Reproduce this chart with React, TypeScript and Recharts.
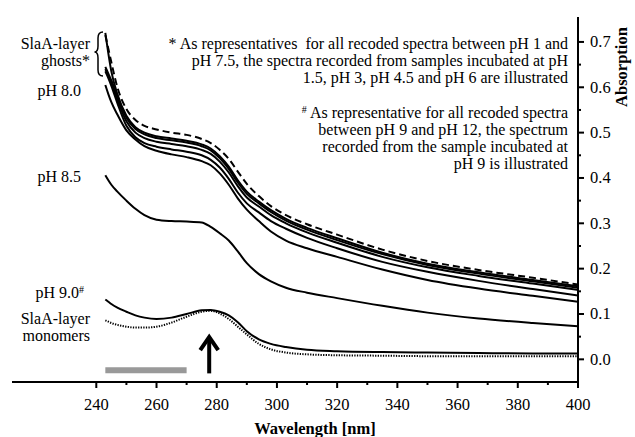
import React from 'react';
import {
  LineChart,
  Line,
  XAxis,
  YAxis,
  ReferenceLine,
  ReferenceDot,
} from 'recharts';

// wavelength grid [nm]
const WAVELENGTHS = [243, 244, 245, 247, 250, 253, 256, 260, 265, 270, 275, 278, 281, 284, 287, 290, 294, 298, 303, 310, 320, 335, 350, 367, 385, 400];

// S-layer ghosts (pH 1.5 - 7.5), dashed one on top
const GHOST_DASHED = [0.715, 0.685, 0.655, 0.6, 0.552, 0.528, 0.515, 0.507, 0.5, 0.495, 0.486, 0.477, 0.462, 0.442, 0.414, 0.387, 0.36, 0.338, 0.318, 0.298, 0.275, 0.242, 0.217, 0.197, 0.18, 0.165];
const GHOST_1 = [0.72, 0.675, 0.635, 0.585, 0.537, 0.512, 0.5, 0.492, 0.487, 0.482, 0.474, 0.465, 0.448, 0.425, 0.395, 0.37, 0.348, 0.329, 0.31, 0.29, 0.267, 0.235, 0.211, 0.192, 0.175, 0.161];
const GHOST_2 = [0.645, 0.63, 0.615, 0.58, 0.533, 0.508, 0.496, 0.488, 0.483, 0.478, 0.47, 0.461, 0.444, 0.42, 0.39, 0.365, 0.344, 0.325, 0.306, 0.286, 0.263, 0.232, 0.208, 0.189, 0.172, 0.158];
const GHOST_3 = [0.64, 0.625, 0.61, 0.573, 0.525, 0.5, 0.488, 0.48, 0.475, 0.47, 0.462, 0.453, 0.436, 0.412, 0.382, 0.357, 0.337, 0.318, 0.3, 0.28, 0.257, 0.226, 0.203, 0.184, 0.167, 0.153];
const GHOST_4 = [0.635, 0.62, 0.603, 0.565, 0.515, 0.49, 0.477, 0.469, 0.463, 0.458, 0.45, 0.44, 0.423, 0.398, 0.368, 0.344, 0.324, 0.305, 0.288, 0.268, 0.245, 0.215, 0.193, 0.173, 0.155, 0.141];
const PH_80 = [0.605, 0.585, 0.567, 0.54, 0.505, 0.485, 0.47, 0.46, 0.452, 0.446, 0.437, 0.428, 0.41, 0.385, 0.355, 0.33, 0.305, 0.282, 0.262, 0.245, 0.226, 0.198, 0.175, 0.156, 0.14, 0.127];
const PH_85 = [0.406, 0.395, 0.385, 0.37, 0.35, 0.332, 0.318, 0.308, 0.305, 0.304, 0.302, 0.292, 0.278, 0.262, 0.238, 0.212, 0.188, 0.172, 0.158, 0.147, 0.135, 0.118, 0.103, 0.09, 0.08, 0.073];
const PH_90 = [0.132, 0.127, 0.122, 0.114, 0.105, 0.097, 0.092, 0.089, 0.092, 0.1, 0.108, 0.109, 0.105, 0.097, 0.082, 0.062, 0.044, 0.034, 0.027, 0.021, 0.018, 0.016, 0.015, 0.014, 0.013, 0.013];
const MONOMERS = [0.086, 0.083, 0.08, 0.076, 0.072, 0.07, 0.07, 0.072, 0.081, 0.094, 0.105, 0.107, 0.101, 0.089, 0.072, 0.055, 0.034, 0.022, 0.015, 0.011, 0.009, 0.008, 0.007, 0.007, 0.007, 0.007];

const X_TICKS = [240, 250, 260, 270, 280, 290, 300, 310, 320, 330, 340, 350, 360, 370, 380, 390, 400];
const Y_TICKS = [0, 0.05, 0.1, 0.15, 0.2, 0.25, 0.3, 0.35, 0.4, 0.45, 0.5, 0.55, 0.6, 0.65, 0.7];

// grey bar and arrow marks (data units)
const BAR_RANGE = [243, 270];
const BAR_LEVEL = -0.024;
const ARROW_X = 277.5;
const ARROW_TIP = 0.049;
const ARROW_TAIL = -0.031;

const data = WAVELENGTHS.map((wl, i) => ({
  wl,
  dashed: GHOST_DASHED[i],
  g1: GHOST_1[i],
  g2: GHOST_2[i],
  g3: GHOST_3[i],
  g4: GHOST_4[i],
  ph80: PH_80[i],
  ph85: PH_85[i],
  ph90: PH_90[i],
  mono: MONOMERS[i],
}));

const FONT = '"Liberation Serif", "Times New Roman", Times, Tinos, "Noto Serif", "DejaVu Serif", FreeSerif, serif';

const BottomTick = (props: any) => {
  const { x, y, payload } = props;
  const major = payload.value % 20 === 0;
  return (
    <g>
      <line x1={x} x2={x} y1={y} y2={y + (major ? 6 : 3)} stroke="#000" strokeWidth={2} />
      {major && (
        <text x={x} y={y + 28} textAnchor="middle" style={{ fontFamily: FONT }} fontSize={16.5} fill="#000">
          {payload.value}
        </text>
      )}
    </g>
  );
};

const TopTick = (props: any) => {
  const { x, y, payload } = props;
  const major = payload.value % 20 === 0;
  return <line x1={x} x2={x} y1={y} y2={y - (major ? 6 : 3)} stroke="#000" strokeWidth={2} />;
};

const RightTick = (props: any) => {
  const { x, y, payload } = props;
  const major = Math.round(payload.value * 100) % 10 === 0;
  return (
    <g>
      <line x1={x} x2={x + (major ? 6 : 3)} y1={y} y2={y} stroke="#000" strokeWidth={2} />
      {major && (
        <text x={x + 12} y={y + 5.5} textAnchor="start" style={{ fontFamily: FONT }} fontSize={16.5} fill="#000">
          {payload.value.toFixed(1)}
        </text>
      )}
    </g>
  );
};

const ArrowHead = (props: any) => {
  const { cx, cy } = props;
  return (
    <path
      d={`M${cx - 9},${cy + 13} L${cx},${cy} L${cx + 9},${cy + 13}`}
      fill="none"
      stroke="#000"
      strokeWidth={4}
    />
  );
};

const label: React.CSSProperties = {
  position: 'absolute',
  fontFamily: FONT,
  fontSize: 16,
  lineHeight: '17px',
  color: '#000',
  textAlign: 'right',
  whiteSpace: 'nowrap',
};

const note: React.CSSProperties = { ...label, fontSize: 16 };

const sup: React.CSSProperties = { fontSize: 10, verticalAlign: 'top', lineHeight: '12px' };

export default function App() {
  const curve = (key: string, extra: any = {}) => (
    <Line
      key={key}
      dataKey={key}
      type="monotone"
      stroke="#000"
      strokeWidth={2}
      dot={false}
      isAnimationActive={false}
      {...extra}
    />
  );

  return (
    <div style={{ position: 'absolute', left: 0, top: 0, width: 635, height: 437, background: '#fff', fontFamily: FONT }}>
      <LineChart width={635} height={437} data={data} margin={{ top: 17, right: 0, left: 12, bottom: 0 }}>
        <XAxis
          dataKey="wl"
          type="number"
          domain={[212, 400]}
          ticks={X_TICKS}
          interval={0}
          height={55}
          tickSize={0}
          tickMargin={0}
          tickLine={false}
          axisLine={{ stroke: '#000', strokeWidth: 2 }}
          tick={<BottomTick />}
          allowDataOverflow
        />
        <XAxis
          xAxisId="top"
          orientation="top"
          dataKey="wl"
          type="number"
          domain={[212, 400]}
          ticks={X_TICKS}
          interval={0}
          height={0}
          tickSize={0}
          tickMargin={0}
          tickLine={false}
          axisLine={{ stroke: '#000', strokeWidth: 2 }}
          tick={<TopTick />}
          allowDataOverflow
        />
        <YAxis
          orientation="right"
          type="number"
          domain={[-0.05, 0.755]}
          ticks={Y_TICKS}
          interval={0}
          width={57}
          tickSize={0}
          tickMargin={0}
          tickLine={false}
          axisLine={{ stroke: '#000', strokeWidth: 2 }}
          tick={<RightTick />}
          allowDataOverflow
        />
        <YAxis
          yAxisId="left"
          orientation="left"
          type="number"
          domain={[-0.05, 0.755]}
          width={0}
          tick={false}
          tickLine={false}
          axisLine={{ stroke: '#000', strokeWidth: 2 }}
        />

        {curve('g4')}
        {curve('g3')}
        {curve('g2')}
        {curve('g1')}
        {curve('dashed', { strokeDasharray: '7 4' })}
        {curve('ph80')}
        {curve('ph85')}
        {curve('ph90')}
        {curve('mono', { strokeDasharray: '1.3 1.3' })}

        <ReferenceLine
          segment={[{ x: BAR_RANGE[0], y: BAR_LEVEL }, { x: BAR_RANGE[1], y: BAR_LEVEL }]}
          stroke="#999"
          strokeWidth={6}
        />
        <ReferenceLine
          segment={[{ x: ARROW_X, y: ARROW_TAIL }, { x: ARROW_X, y: ARROW_TIP - 0.004 }]}
          stroke="#000"
          strokeWidth={4}
        />
        <ReferenceDot x={ARROW_X} y={ARROW_TIP} r={1} shape={<ArrowHead />} />
      </LineChart>

      {/* axis titles */}
      <div
        style={{
          position: 'absolute',
          left: 315 - 100,
          width: 200,
          top: 420,
          textAlign: 'center',
          fontWeight: 'bold',
          fontSize: 16.5,
          lineHeight: '17px',
        }}
      >
        Wavelength [nm]
      </div>
      <div
        style={{
          position: 'absolute',
          left: 622 - 50,
          top: 67 - 9,
          width: 100,
          textAlign: 'center',
          fontWeight: 'bold',
          fontSize: 16.5,
          lineHeight: '18px',
          transform: 'rotate(-90deg)',
        }}
      >
        Absorption
      </div>

      {/* curve labels */}
      <div style={{ ...label, right: 635 - 90, top: 34.5 }}>
        SlaA-layer
        <br />
        ghosts*
      </div>
      <div style={{ ...label, right: 635 - 81, top: 81.5 }}>pH 8.0</div>
      <div style={{ ...label, right: 635 - 81, top: 168 }}>pH 8.5</div>
      <div style={{ ...label, right: 635 - 84, top: 283.5 }}>
        pH 9.0<sup style={sup}>#</sup>
      </div>
      <div style={{ ...label, right: 635 - 90, top: 309.5 }}>
        SlaA-layer
        <br />
        monomers
      </div>

      {/* notes */}
      <div style={{ ...note, right: 635 - 568, top: 34.5 }}>
        * As representatives&nbsp; for all recoded spectra between pH 1 and
        <br />
        pH 7.5, the spectra recorded from samples incubated at pH
        <br />
        1.5, pH 3, pH 4.5 and pH 6 are illustrated
      </div>
      <div style={{ ...note, right: 635 - 568, top: 104 }}>
        <sup style={sup}>#</sup> As representative for all recoded spectra
        <br />
        between pH 9 and pH 12, the spectrum
        <br />
        recorded from the sample incubated at
        <br />
        pH 9 is illustrated
      </div>

      {/* brace for ghost curves */}
      <svg width={635} height={437} style={{ position: 'absolute', left: 0, top: 0, pointerEvents: 'none' }}>
        <path
          d="M103,32 Q98,32 98,38 L98,46 Q98,52 94.5,52 Q98,52 98,58 L98,70 Q98,76 103,76"
          fill="none"
          stroke="#000"
          strokeWidth={1.5}
        />
      </svg>
    </div>
  );
}
